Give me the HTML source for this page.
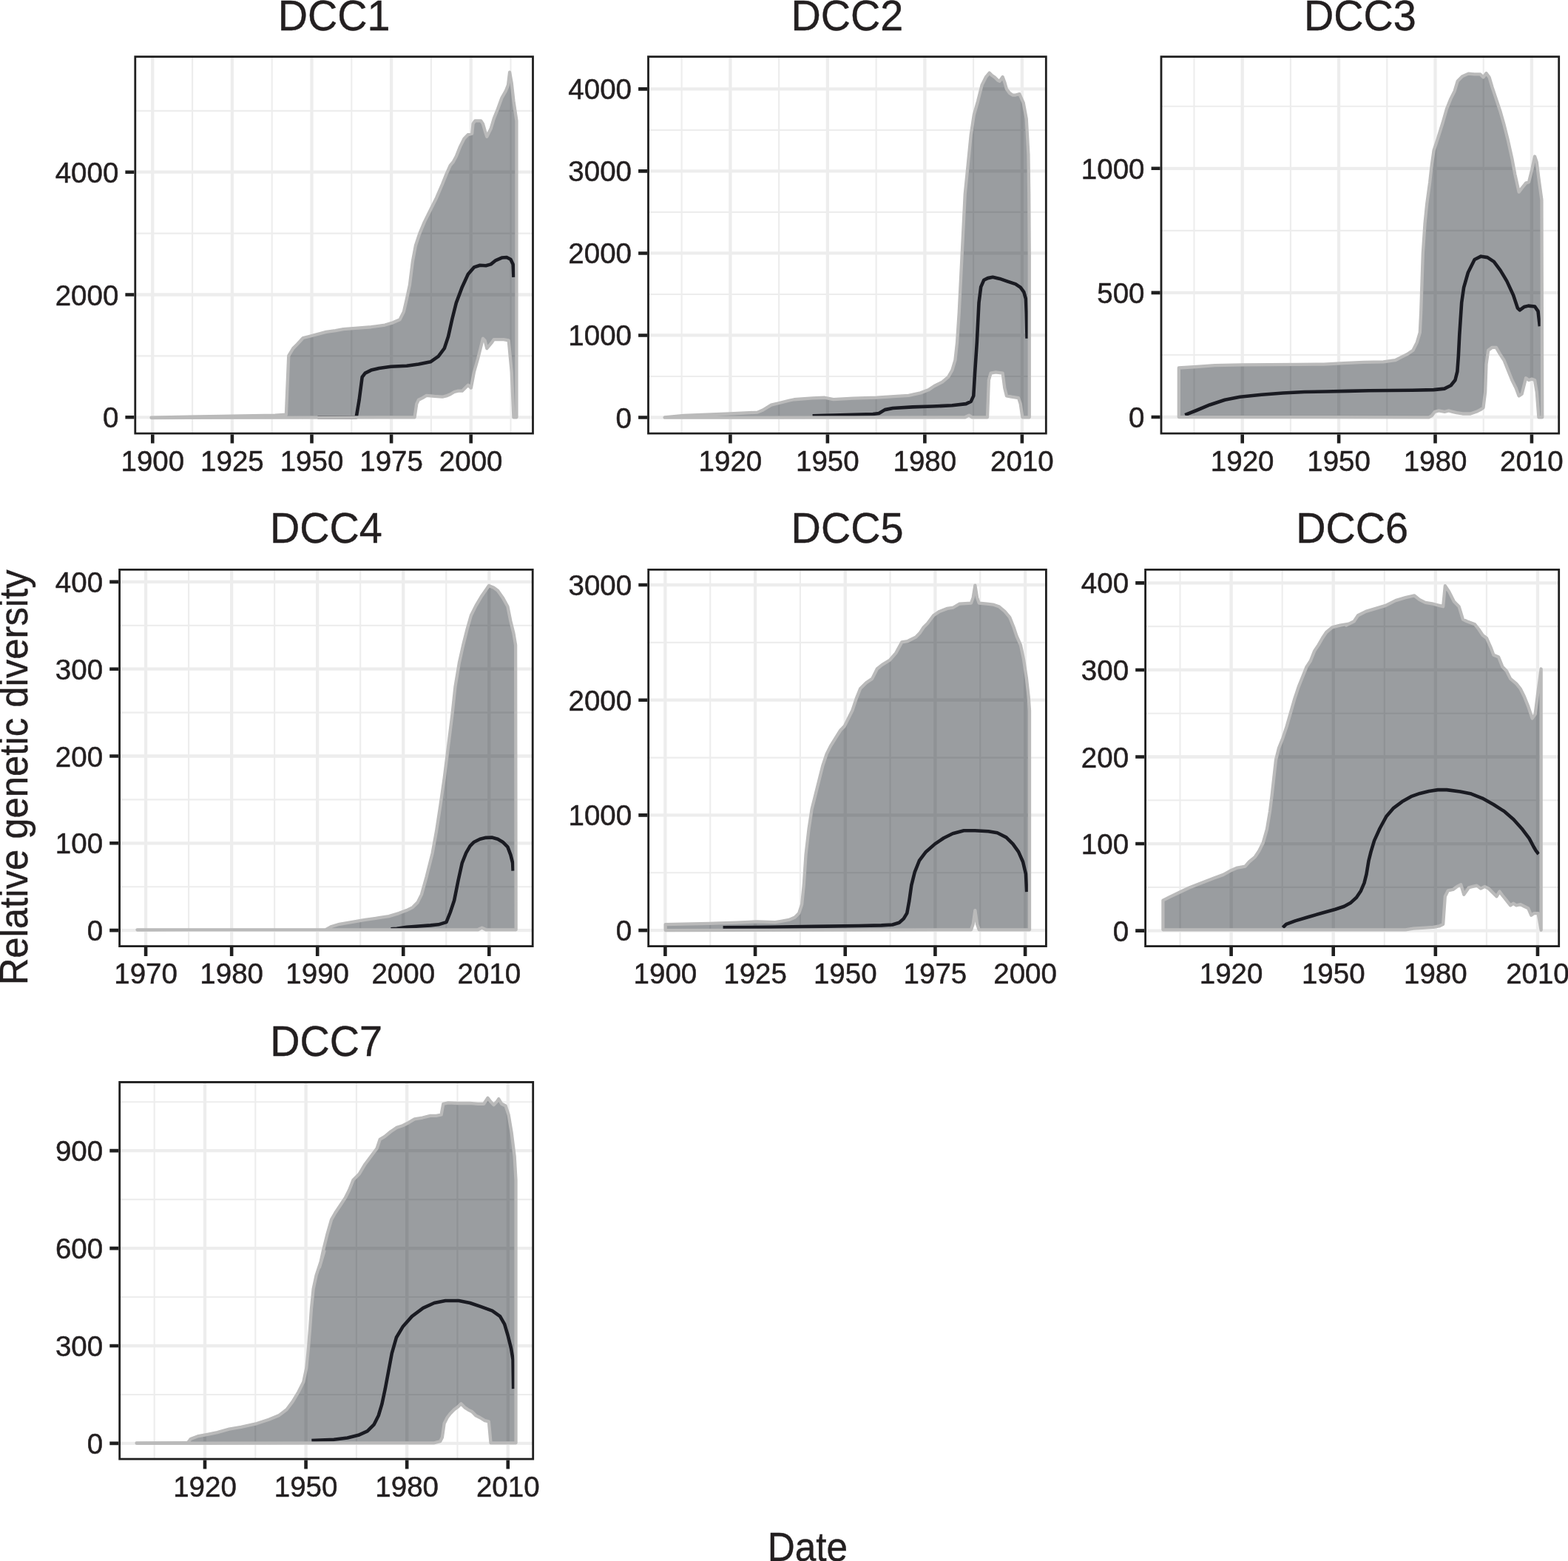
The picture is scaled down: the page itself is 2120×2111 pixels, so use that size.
<!DOCTYPE html>
<html><head><meta charset="utf-8"><title>Relative genetic diversity</title><style>html,body{margin:0;padding:0;background:#fff;overflow:hidden}svg{display:block}</style></head><body>
<svg width="2120" height="2111" viewBox="0 0 2120 2111">
<rect width="100%" height="100%" fill="#fff"/>
<defs><clipPath id="c0"><rect x="181.4" y="75.3" width="540.5" height="512.3"/></clipPath><clipPath id="c1"><rect x="875.1" y="75.3" width="540.6" height="512.3"/></clipPath><clipPath id="c2"><rect x="1568.6" y="75.3" width="540.5" height="512.3"/></clipPath><clipPath id="c3"><rect x="160.2" y="768.9" width="561.4" height="512.1"/></clipPath><clipPath id="c4"><rect x="875.3" y="768.9" width="540.5" height="512.1"/></clipPath><clipPath id="c5"><rect x="1547.2" y="768.9" width="561.9" height="512.1"/></clipPath><clipPath id="c6"><rect x="160.3" y="1462.1" width="561.8" height="512.4"/></clipPath></defs>
<g clip-path="url(#c0)">
<path d="M260.1 75.3V587.6M367.7 75.3V587.6M475.3 75.3V587.6M582.9 75.3V587.6M690.5 75.3V587.6M181.4 481.4H721.9M181.4 315.6H721.9M181.4 149.8H721.9" stroke="#ededed" stroke-width="2.15" fill="none"/>
<path d="M206.3 75.3V587.6M313.9 75.3V587.6M421.5 75.3V587.6M529.1 75.3V587.6M636.7 75.3V587.6M181.4 564.3H721.9M181.4 398.5H721.9M181.4 232.7H721.9" stroke="#ededed" stroke-width="4.3" fill="none"/>
<polyline points="429.44,564.29 481.64,564.29 485.65,540.74 489.67,509.96 493.68,504.6 501.71,500.59 512.42,497.91 528.48,495.77 549.89,494.7 565.95,492.56 582.01,489.35 592.72,481.85 600.75,471.15 606.1,455.09 611.46,431 616.81,409.58 624.84,388.17 632.87,370.77 640.9,361.4 648.93,358.73 656.96,359.26 663.65,357.39 670.34,352.03 678.37,348.55 685.06,348.02 690.42,350.7 693.63,357.39 694.43,374.79" fill="none" stroke="#2a272e" stroke-width="4.6" stroke-linejoin="round"/>
<polygon points="204.55,564.66 299.42,562.91 372.09,561.57 386.89,560.63 390.26,481.23 396.31,471.14 401.7,465.75 409.77,457.01 417.85,454.99 440.99,448.93 453.53,447.06 464.24,445.18 480.3,443.84 501.71,442.24 520.45,439.56 531.16,436.35 540.52,432.33 545.88,421.63 549.89,404.23 553.91,385.49 557.92,353.37 561.94,331.96 567.29,315.9 573.98,299.84 582.01,283.78 590.04,267.72 598.07,248.98 603.43,235.6 608.78,223.55 612.79,219 616.81,211.51 622.16,198.13 627.52,187.42 632.87,182.07 638.22,180.73 639.56,167.34 642.24,163.33 650.27,163.33 652.94,167.34 655.62,176.71 658.3,184.74 660.97,179.39 663.65,174.04 667.67,160.65 673.02,147.27 678.37,132.55 683.73,123.18 686.94,115.15 689.08,97.75 691.76,112.47 694.43,136.56 698.45,163.33 698.45,564.29 694.43,564.29 691.76,503.27 687.74,460.44 681.05,459.1 667.67,459.1 664.99,463.12 658.3,471.15 655.62,460.44 652.94,457.76 650.27,468.47 646.25,484.53 640.9,503.27 636.88,524.68 632.87,520.66 628.85,524.68 624.84,528.69 619.49,528.69 614.13,530.03 608.78,533.24 603.43,535.39 598.07,536.72 587.37,535.92 576.66,534.85 571.31,538.06 565.95,540.74 563.28,546.09 560.6,564.29 204.55,565.07" fill="#020a12" fill-opacity="0.4" stroke="#bababa" stroke-width="4.3" stroke-linejoin="round"/>
<rect x="181.4" y="75.3" width="540.5" height="512.3" fill="none" stroke="#1f1f1f" stroke-width="5.6"/>
</g>
<path d="M206.3 587.6v12M313.9 587.6v12M421.5 587.6v12M529.1 587.6v12M636.7 587.6v12M181.4 564.3h-12M181.4 398.5h-12M181.4 232.7h-12" stroke="#1f1f1f" stroke-width="4.6" fill="none"/>
<g font-family="'Liberation Sans', Arial, Helvetica, sans-serif" font-size="38.5" fill="#231f20" stroke="#231f20" stroke-width="0.5"><text x="206.3" y="636.8" text-anchor="middle">1900</text><text x="313.9" y="636.8" text-anchor="middle">1925</text><text x="421.5" y="636.8" text-anchor="middle">1950</text><text x="529.1" y="636.8" text-anchor="middle">1975</text><text x="636.7" y="636.8" text-anchor="middle">2000</text><text x="160.3" y="578.3" text-anchor="end">0</text><text x="160.3" y="412.5" text-anchor="end">2000</text><text x="160.3" y="246.7" text-anchor="end">4000</text></g>
<text transform="translate(451.65,40.85) scale(1,1.04)" text-anchor="middle" font-family="'Liberation Sans', Arial, Helvetica, sans-serif" font-size="55.8" fill="#231f20" stroke="#231f20" stroke-width="0.4">DCC1</text>
<g clip-path="url(#c1)">
<path d="M921.65 75.3V587.6M1053.14 75.3V587.6M1184.63 75.3V587.6M1316.12 75.3V587.6M875.1 508.99H1415.7M875.1 397.95H1415.7M875.1 286.93H1415.7M875.1 175.89H1415.7" stroke="#ededed" stroke-width="2.15" fill="none"/>
<path d="M987.4 75.3V587.6M1118.89 75.3V587.6M1250.38 75.3V587.6M1381.87 75.3V587.6M875.1 564.5H1415.7M875.1 453.47H1415.7M875.1 342.44H1415.7M875.1 231.41H1415.7M875.1 120.38H1415.7" stroke="#ededed" stroke-width="4.3" fill="none"/>
<polyline points="1098.6,562.24 1115,561.74 1126.77,561.62 1153.53,560.81 1180.3,560.01 1188.33,558.94 1196.36,554.12 1207.07,551.98 1233.83,550.37 1260.6,549.57 1287.37,548.23 1306.1,546.09 1312.79,542.88 1316.27,535.39 1318.15,503.27 1320.82,463.12 1323.5,409.58 1326.18,388.17 1330.19,378.8 1335.55,376.12 1342.24,374.79 1351.61,376.93 1362.31,380.67 1373.02,384.15 1379.71,388.7 1384.26,394.86 1386.94,404.23 1387.74,422.97 1388.54,457.76" fill="none" stroke="#2a272e" stroke-width="4.6" stroke-linejoin="round"/>
<polygon points="898.6,564.47 924.69,561.99 986.8,559.5 1024.07,557.64 1031.52,554.53 1042.7,547.7 1052.64,545.22 1067.55,541.49 1073.76,540.25 1098.6,538.39 1115,537.76 1126.77,540.2 1153.53,538.6 1185.65,537.53 1212.42,535.92 1228.48,534.85 1244.54,531.37 1255.25,527.36 1263.28,522 1273.98,516.65 1282.01,509.96 1287.37,500.59 1291.38,487.21 1294.06,463.12 1296.73,422.97 1299.41,369.43 1302.09,315.9 1304.76,262.37 1308.78,222.22 1312.79,182.07 1316.81,155.3 1322.16,136.56 1327.52,115.15 1332.87,104.44 1337.69,98.55 1340.9,101.77 1344.91,104.44 1348.93,108.46 1351.61,109.8 1355.62,103.91 1358.3,111.13 1360.97,120.5 1364.99,125.86 1369,128.53 1373.02,128.53 1378.37,127.19 1383.73,139.24 1387.74,160.65 1390.42,208.83 1391.22,262.37 1391.76,342.67 1391.76,564.29 1382.39,564.29 1379.71,546.09 1377.03,538.06 1367.67,536.72 1360.97,535.39 1358.3,524.68 1355.62,504.6 1346.25,503.27 1339.56,504.6 1336.88,513.97 1335.01,564.29 1314.13,564.29 1310.12,561.62 1304.76,564.29 898.6,564.72" fill="#020a12" fill-opacity="0.4" stroke="#bababa" stroke-width="4.3" stroke-linejoin="round"/>
<rect x="875.1" y="75.3" width="540.6" height="512.3" fill="none" stroke="#1f1f1f" stroke-width="5.6"/>
</g>
<path d="M987.4 587.6v12M1118.89 587.6v12M1250.38 587.6v12M1381.87 587.6v12M875.1 564.5h-12M875.1 453.47h-12M875.1 342.44h-12M875.1 231.41h-12M875.1 120.38h-12" stroke="#1f1f1f" stroke-width="4.6" fill="none"/>
<g font-family="'Liberation Sans', Arial, Helvetica, sans-serif" font-size="38.5" fill="#231f20" stroke="#231f20" stroke-width="0.5"><text x="987.4" y="636.8" text-anchor="middle">1920</text><text x="1118.89" y="636.8" text-anchor="middle">1950</text><text x="1250.38" y="636.8" text-anchor="middle">1980</text><text x="1381.87" y="636.8" text-anchor="middle">2010</text><text x="854" y="578.5" text-anchor="end">0</text><text x="854" y="467.47" text-anchor="end">1000</text><text x="854" y="356.44" text-anchor="end">2000</text><text x="854" y="245.41" text-anchor="end">3000</text><text x="854" y="134.38" text-anchor="end">4000</text></g>
<text transform="translate(1145.4,40.85) scale(1,1.04)" text-anchor="middle" font-family="'Liberation Sans', Arial, Helvetica, sans-serif" font-size="55.8" fill="#231f20" stroke="#231f20" stroke-width="0.4">DCC2</text>
<g clip-path="url(#c2)">
<path d="M1614.5 75.3V587.6M1744.9 75.3V587.6M1875.32 75.3V587.6M2005.73 75.3V587.6M1568.6 479.95H2109.1M1568.6 311.85H2109.1M1568.6 143.75H2109.1" stroke="#ededed" stroke-width="2.15" fill="none"/>
<path d="M1679.7 75.3V587.6M1810.11 75.3V587.6M1940.52 75.3V587.6M2070.93 75.3V587.6M1568.6 564H2109.1M1568.6 395.9H2109.1M1568.6 227.8H2109.1" stroke="#ededed" stroke-width="4.3" fill="none"/>
<polyline points="1602.2,561.16 1618.21,554.76 1635.67,547.49 1656.04,540.79 1676.41,536.72 1705.52,533.81 1734.62,531.48 1763.73,530.02 1792.83,529.44 1821.93,528.86 1851.04,528.28 1880.14,527.99 1909.24,527.69 1938.35,527.11 1952.9,525.66 1961.63,521.29 1967.45,514.02 1970.36,502.37 1971.82,482 1973.27,452.9 1976.18,409.24 1979.09,388.87 1984.91,368.5 1993.64,351.04 2002.37,346.67 2011.11,348.13 2019.84,353.95 2028.57,365.59 2037.3,380.14 2046.03,399.06 2051.85,416.52 2054.76,419.43 2060.58,415.06 2066.4,413.61 2075.13,414.48 2079.5,420.88 2081.83,441.26" fill="none" stroke="#2a272e" stroke-width="4.6" stroke-linejoin="round"/>
<polygon points="1593.84,564.1 1593.84,497.52 1617.69,496.02 1642.53,494.16 1679.8,493.29 1754.34,492.8 1789.99,492.55 1816.77,491.22 1843.53,489.88 1870.3,489.35 1886.36,487.21 1894.39,483.19 1902.42,479.18 1910.45,473.82 1915.8,463.12 1919.82,449.73 1921.16,422.97 1922.49,382.82 1923.83,342.67 1926.51,302.52 1929.19,275.75 1933.2,246.31 1935.88,222.22 1938.55,203.48 1943.91,187.42 1950.6,166.01 1955.95,147.27 1961.31,133.89 1966.66,123.18 1970.67,109.8 1977.37,103.1 1985.4,99.63 1993.43,100.43 2001.46,100.43 2005.47,104.44 2009.49,99.09 2013.5,104.44 2017.52,117.83 2022.87,133.89 2028.22,149.95 2033.58,168.68 2038.93,190.1 2044.28,214.19 2048.3,235.6 2053.65,259.69 2057.67,254.34 2063.02,247.64 2067.03,246.31 2071.05,230.25 2075.06,211.51 2077.74,219.54 2080.42,240.95 2084.43,270.4 2085.24,564.29 2080.42,564.29 2077.74,530.03 2075.06,513.97 2071.05,512.63 2067.03,513.97 2063.02,511.3 2057.67,532.71 2053.65,535.39 2049.64,524.68 2044.28,513.97 2038.93,500.59 2033.58,487.21 2028.22,479.18 2022.87,469.81 2017.52,469.81 2012.16,473.82 2009.49,492.56 2008.15,530.03 2005.47,551.45 2001.46,554.12 1996.1,556.8 1988.07,559.48 1977.37,559.48 1969.34,558.14 1963.98,556.8 1958.63,555.46 1953.28,556.8 1945.25,555.46 1939.89,556.8 1935.88,562.15 1931.86,564.29" fill="#020a12" fill-opacity="0.4" stroke="#bababa" stroke-width="4.3" stroke-linejoin="round"/>
<rect x="1568.6" y="75.3" width="540.5" height="512.3" fill="none" stroke="#1f1f1f" stroke-width="5.6"/>
</g>
<path d="M1679.7 587.6v12M1810.11 587.6v12M1940.52 587.6v12M2070.93 587.6v12M1568.6 564h-12M1568.6 395.9h-12M1568.6 227.8h-12" stroke="#1f1f1f" stroke-width="4.6" fill="none"/>
<g font-family="'Liberation Sans', Arial, Helvetica, sans-serif" font-size="38.5" fill="#231f20" stroke="#231f20" stroke-width="0.5"><text x="1679.7" y="636.8" text-anchor="middle">1920</text><text x="1810.11" y="636.8" text-anchor="middle">1950</text><text x="1940.52" y="636.8" text-anchor="middle">1980</text><text x="2070.93" y="636.8" text-anchor="middle">2010</text><text x="1547.5" y="578" text-anchor="end">0</text><text x="1547.5" y="409.9" text-anchor="end">500</text><text x="1547.5" y="241.8" text-anchor="end">1000</text></g>
<text transform="translate(1838.85,40.85) scale(1,1.04)" text-anchor="middle" font-family="'Liberation Sans', Arial, Helvetica, sans-serif" font-size="55.8" fill="#231f20" stroke="#231f20" stroke-width="0.4">DCC3</text>
<g clip-path="url(#c3)">
<path d="M255.12 768.9V1281M371.18 768.9V1281M487.23 768.9V1281M603.27 768.9V1281M160.2 1199.2H721.6M160.2 1081.4H721.6M160.2 963.6H721.6M160.2 845.8H721.6" stroke="#ededed" stroke-width="2.15" fill="none"/>
<path d="M197.1 768.9V1281M313.15 768.9V1281M429.2 768.9V1281M545.25 768.9V1281M661.3 768.9V1281M160.2 1258.1H721.6M160.2 1140.3H721.6M160.2 1022.5H721.6M160.2 904.7H721.6M160.2 786.9H721.6" stroke="#ededed" stroke-width="4.3" fill="none"/>
<polyline points="528.48,1256.22 536.51,1255.69 549.89,1253.81 565.95,1252.48 582.01,1251.4 592.72,1250.33 603.43,1247.12 608.78,1233.74 614.13,1217.68 619.49,1190.91 624.84,1166.82 630.19,1153.44 635.55,1144.07 640.9,1138.72 648.93,1134.7 656.96,1132.83 664.99,1132.56 673.02,1134.7 679.71,1138.72 686.4,1145.41 690.42,1156.12 693.09,1166.82 693.63,1177.53" fill="none" stroke="#2a272e" stroke-width="4.6" stroke-linejoin="round"/>
<polygon points="185.5,1257.3 440.15,1257.29 448.18,1253.01 458.89,1249.8 474.95,1247.12 493.68,1243.91 512.42,1241.23 525.8,1239.09 539.19,1235.08 549.89,1231.06 557.92,1227.05 564.61,1220.36 569.97,1209.65 576.66,1185.56 584.69,1153.44 590.04,1124 595.4,1089.2 600.75,1051.73 606.1,1008.9 611.46,966.07 615.47,928.6 620.82,896.48 626.18,872.39 631.53,850.98 636.88,832.24 643.58,818.86 651.61,805.47 660.97,792.09 667.67,794.77 673.02,798.78 679.71,808.15 686.4,820.19 690.42,840.27 694.43,856.33 697.11,872.39 697.64,1257.29 656.96,1257.29 651.61,1254.62 646.25,1257.29 185.5,1257.5" fill="#020a12" fill-opacity="0.4" stroke="#bababa" stroke-width="4.3" stroke-linejoin="round"/>
<rect x="160.2" y="768.9" width="561.4" height="512.1" fill="none" stroke="#1f1f1f" stroke-width="5.6"/>
</g>
<path d="M197.1 1281v12M313.15 1281v12M429.2 1281v12M545.25 1281v12M661.3 1281v12M160.2 1258.1h-12M160.2 1140.3h-12M160.2 1022.5h-12M160.2 904.7h-12M160.2 786.9h-12" stroke="#1f1f1f" stroke-width="4.6" fill="none"/>
<g font-family="'Liberation Sans', Arial, Helvetica, sans-serif" font-size="38.5" fill="#231f20" stroke="#231f20" stroke-width="0.5"><text x="197.1" y="1330.2" text-anchor="middle">1970</text><text x="313.15" y="1330.2" text-anchor="middle">1980</text><text x="429.2" y="1330.2" text-anchor="middle">1990</text><text x="545.25" y="1330.2" text-anchor="middle">2000</text><text x="661.3" y="1330.2" text-anchor="middle">2010</text><text x="139.1" y="1272.1" text-anchor="end">0</text><text x="139.1" y="1154.3" text-anchor="end">100</text><text x="139.1" y="1036.5" text-anchor="end">200</text><text x="139.1" y="918.7" text-anchor="end">300</text><text x="139.1" y="800.9" text-anchor="end">400</text></g>
<text transform="translate(440.9,734.45) scale(1,1.04)" text-anchor="middle" font-family="'Liberation Sans', Arial, Helvetica, sans-serif" font-size="55.8" fill="#231f20" stroke="#231f20" stroke-width="0.4">DCC4</text>
<g clip-path="url(#c4)">
<path d="M960.24 768.9V1281M1081.91 768.9V1281M1203.59 768.9V1281M1325.26 768.9V1281M875.3 1180.25H1415.8M875.3 1024.55H1415.8M875.3 868.85H1415.8" stroke="#ededed" stroke-width="2.15" fill="none"/>
<path d="M899.4 768.9V1281M1021.07 768.9V1281M1142.75 768.9V1281M1264.42 768.9V1281M1386.1 768.9V1281M875.3 1258.1H1415.8M875.3 1102.4H1415.8M875.3 946.7H1415.8M875.3 791H1415.8" stroke="#ededed" stroke-width="4.3" fill="none"/>
<polyline points="977.58,1254.42 1040.89,1253.82 1101.18,1252.92 1161.48,1252.01 1191.62,1251.41 1206.7,1250.5 1215.74,1247.79 1221.77,1242.36 1226.29,1234.83 1229.31,1218.25 1232.32,1197.14 1236.85,1179.05 1242.88,1163.98 1251.92,1151.92 1263.98,1141.37 1276.04,1133.23 1288.1,1127.2 1303.17,1123.28 1318.25,1123.28 1336.33,1124.18 1348.39,1126.29 1360.45,1132.32 1369.5,1141.37 1377.03,1151.92 1383.06,1165.49 1386.98,1182.07 1388.19,1206.19" fill="none" stroke="#2a272e" stroke-width="4.6" stroke-linejoin="round"/>
<polygon points="899.69,1258.08 899.69,1250.06 958.85,1248.95 996.12,1247.55 1024.07,1246.34 1048.03,1247.12 1056.06,1245.78 1066.77,1243.91 1074.8,1240.43 1080.15,1235.08 1084.16,1223.03 1086.84,1196.27 1089.52,1156.12 1093.53,1121.32 1097.55,1094.55 1104.24,1067.79 1108.25,1051.73 1112.27,1035.67 1117.62,1019.61 1122.98,1008.9 1129.67,998.19 1136.36,987.49 1141.71,982.13 1147.07,971.43 1152.42,960.72 1157.77,944.66 1163.13,931.28 1171.16,923.25 1179.19,917.89 1185.88,904.51 1192.57,899.16 1203.28,892.46 1211.31,883.1 1219.34,868.37 1227.37,867.04 1238.07,861.68 1243.43,856.33 1248.78,848.3 1254.13,842.95 1262.16,832.24 1270.19,826.89 1280.9,822.87 1288.93,821.53 1296.96,816.72 1304.99,816.18 1313.02,815.64 1315.7,808.15 1318.37,791.55 1321.05,808.15 1323.73,815.64 1334.43,816.72 1342.46,817.52 1350.49,820.19 1358.52,826.89 1365.21,834.92 1370.57,848.3 1374.58,860.34 1379.94,872.39 1383.95,891.13 1387.97,917.89 1390.64,941.98 1391.98,960.72 1391.98,1257.29 1323.73,1257.29 1321.05,1249.8 1318.37,1231.06 1315.7,1249.8 1313.02,1257.29" fill="#020a12" fill-opacity="0.4" stroke="#bababa" stroke-width="4.3" stroke-linejoin="round"/>
<rect x="875.3" y="768.9" width="540.5" height="512.1" fill="none" stroke="#1f1f1f" stroke-width="5.6"/>
</g>
<path d="M899.4 1281v12M1021.07 1281v12M1142.75 1281v12M1264.42 1281v12M1386.1 1281v12M875.3 1258.1h-12M875.3 1102.4h-12M875.3 946.7h-12M875.3 791h-12" stroke="#1f1f1f" stroke-width="4.6" fill="none"/>
<g font-family="'Liberation Sans', Arial, Helvetica, sans-serif" font-size="38.5" fill="#231f20" stroke="#231f20" stroke-width="0.5"><text x="899.4" y="1330.2" text-anchor="middle">1900</text><text x="1021.07" y="1330.2" text-anchor="middle">1925</text><text x="1142.75" y="1330.2" text-anchor="middle">1950</text><text x="1264.42" y="1330.2" text-anchor="middle">1975</text><text x="1386.1" y="1330.2" text-anchor="middle">2000</text><text x="854.2" y="1272.1" text-anchor="end">0</text><text x="854.2" y="1116.4" text-anchor="end">1000</text><text x="854.2" y="960.7" text-anchor="end">2000</text><text x="854.2" y="805" text-anchor="end">3000</text></g>
<text transform="translate(1145.55,734.45) scale(1,1.04)" text-anchor="middle" font-family="'Liberation Sans', Arial, Helvetica, sans-serif" font-size="55.8" fill="#231f20" stroke="#231f20" stroke-width="0.4">DCC5</text>
<g clip-path="url(#c5)">
<path d="M1595.54 768.9V1281M1733.66 768.9V1281M1871.78 768.9V1281M2009.9 768.9V1281M1547.2 1199.82H2109.1M1547.2 1082.27H2109.1M1547.2 964.72H2109.1M1547.2 847.17H2109.1" stroke="#ededed" stroke-width="2.15" fill="none"/>
<path d="M1664.6 768.9V1281M1802.72 768.9V1281M1940.84 768.9V1281M2078.96 768.9V1281M1547.2 1258.6H2109.1M1547.2 1141.05H2109.1M1547.2 1023.5H2109.1M1547.2 905.95H2109.1M1547.2 788.4H2109.1" stroke="#ededed" stroke-width="4.3" fill="none"/>
<polyline points="1734.45,1254.42 1738.97,1249.9 1751.03,1245.38 1769.12,1239.95 1787.21,1234.83 1805.3,1229.7 1817.36,1225.78 1826.4,1220.66 1833.94,1213.72 1839.97,1204.68 1844.49,1194.13 1847.51,1182.07 1850.52,1163.98 1853.54,1151.92 1858.06,1136.85 1865.6,1120.27 1874.64,1103.68 1883.68,1093.13 1895.74,1084.09 1907.8,1077.15 1919.86,1072.93 1931.92,1069.92 1943.98,1068.11 1956.04,1068.11 1974.13,1070.52 1989.2,1073.54 2004.27,1079.57 2019.35,1088.01 2034.42,1097.65 2046.48,1108.21 2058.54,1121.77 2067.59,1133.83 2073.61,1145.29 2076.63,1150.41 2080.25,1154.94" fill="none" stroke="#2a272e" stroke-width="4.6" stroke-linejoin="round"/>
<polygon points="1572.43,1257.29 1572.43,1217.68 1581.8,1212.86 1595.18,1206.44 1608.56,1200.28 1621.95,1194.93 1640.68,1187.7 1654.07,1182.88 1664.77,1176.99 1672.8,1173.51 1683.51,1171.64 1688.86,1165.48 1696.89,1158.79 1702.25,1150.76 1707.6,1140.06 1712.95,1121.32 1716.97,1097.23 1719.64,1075.82 1722.32,1051.73 1725,1027.64 1729.01,1011.58 1734.37,998.19 1739.72,982.13 1745.07,963.4 1750.43,944.66 1755.78,928.6 1761.13,915.22 1766.49,901.83 1771.84,893.8 1777.19,880.42 1782.55,872.39 1787.9,863.02 1793.25,854.99 1801.28,848.3 1811.99,845.62 1822.7,843.75 1820,845.62 1830.71,840.27 1836.06,832.24 1846.77,826.89 1860.15,822.87 1873.53,818.86 1886.92,812.16 1900.3,808.15 1912.34,805.47 1919.04,810.83 1927.07,814.84 1937.77,816.72 1945.8,818.86 1951.16,820.19 1953.83,792.09 1959.19,800.12 1965.88,813.5 1972.57,820.19 1977.92,837.59 1983.28,840.27 1993.98,844.28 1999.34,850.98 2004.69,859.01 2010.04,863.02 2015.4,875.07 2019.41,885.77 2026.1,888.45 2031.46,901.83 2036.81,907.19 2042.16,917.89 2050.19,924.58 2055.55,931.28 2060.9,941.98 2066.25,955.37 2071.61,971.43 2075.62,966.07 2079.64,933.95 2083.65,904.51 2083.65,1257.83 2079.64,1235.08 2074.28,1235.08 2070.27,1237.75 2066.25,1228.39 2060.9,1225.71 2055.55,1223.03 2050.19,1224.37 2046.18,1221.69 2042.16,1224.37 2036.81,1217.68 2031.46,1210.99 2027.44,1205.63 2023.43,1212.33 2018.07,1206.97 2012.72,1201.62 2007.37,1198.94 2002.01,1201.62 1996.66,1197.6 1991.31,1198.94 1985.95,1200.28 1979.26,1209.65 1975.25,1196.27 1969.89,1198.94 1964.54,1202.96 1957.85,1204.3 1953.83,1212.33 1951.16,1249.8 1945.8,1252.48 1937.77,1253.81 1927.07,1254.62 1911.01,1255.69 1900.3,1257.29" fill="#020a12" fill-opacity="0.4" stroke="#bababa" stroke-width="4.3" stroke-linejoin="round"/>
<rect x="1547.2" y="768.9" width="561.9" height="512.1" fill="none" stroke="#1f1f1f" stroke-width="5.6"/>
</g>
<path d="M1664.6 1281v12M1802.72 1281v12M1940.84 1281v12M2078.96 1281v12M1547.2 1258.6h-12M1547.2 1141.05h-12M1547.2 1023.5h-12M1547.2 905.95h-12M1547.2 788.4h-12" stroke="#1f1f1f" stroke-width="4.6" fill="none"/>
<g font-family="'Liberation Sans', Arial, Helvetica, sans-serif" font-size="38.5" fill="#231f20" stroke="#231f20" stroke-width="0.5"><text x="1664.6" y="1330.2" text-anchor="middle">1920</text><text x="1802.72" y="1330.2" text-anchor="middle">1950</text><text x="1940.84" y="1330.2" text-anchor="middle">1980</text><text x="2078.96" y="1330.2" text-anchor="middle">2010</text><text x="1526.1" y="1272.6" text-anchor="end">0</text><text x="1526.1" y="1155.05" text-anchor="end">100</text><text x="1526.1" y="1037.5" text-anchor="end">200</text><text x="1526.1" y="919.95" text-anchor="end">300</text><text x="1526.1" y="802.4" text-anchor="end">400</text></g>
<text transform="translate(1828.15,734.45) scale(1,1.04)" text-anchor="middle" font-family="'Liberation Sans', Arial, Helvetica, sans-serif" font-size="55.8" fill="#231f20" stroke="#231f20" stroke-width="0.4">DCC6</text>
<g clip-path="url(#c6)">
<path d="M208.7 1462.1V1974.5M345.3 1462.1V1974.5M481.88 1462.1V1974.5M618.48 1462.1V1974.5M160.3 1885.95H722.1M160.3 1754.04H722.1M160.3 1622.12H722.1M160.3 1490.22H722.1" stroke="#ededed" stroke-width="2.15" fill="none"/>
<path d="M277 1462.1V1974.5M413.59 1462.1V1974.5M550.18 1462.1V1974.5M686.77 1462.1V1974.5M160.3 1951.9H722.1M160.3 1819.99H722.1M160.3 1688.08H722.1M160.3 1556.17H722.1" stroke="#ededed" stroke-width="4.3" fill="none"/>
<polyline points="421.33,1948.04 433.39,1947.44 451.48,1946.83 469.57,1944.42 484.64,1940.8 496.7,1935.38 505.74,1926.33 511.77,1914.27 516.29,1899.2 520.82,1878.1 525.34,1853.98 529.86,1829.86 535.89,1808.76 544.94,1793.68 556.99,1780.12 572.07,1768.96 587.14,1762.03 602.22,1759.01 620.3,1759.01 635.38,1762.03 650.45,1767.15 665.53,1772.58 676.08,1780.12 682.11,1790.67 686.63,1805.74 691.15,1823.83 693.56,1838.91 694.17,1878.1" fill="none" stroke="#2a272e" stroke-width="4.6" stroke-linejoin="round"/>
<polygon points="184.63,1951.29 253.68,1951.29 257.7,1945.94 267.07,1942.46 280.45,1939.78 293.83,1937.11 309.89,1932.56 325.95,1929.88 347.37,1925.06 363.43,1919.71 376.81,1914.36 387.52,1906.33 395.55,1895.62 403.58,1882.24 410.27,1868.85 414.28,1850.12 416.96,1823.35 419.1,1796.58 420.97,1769.82 423.65,1743.05 427.67,1724.31 433.02,1708.25 438.37,1692.19 432,1713.61 437.35,1689.52 442.71,1668.1 448.06,1649.37 453.41,1640 461.44,1627.95 466.8,1619.92 472.15,1609.22 477.5,1595.83 485.53,1587.8 493.56,1574.42 501.59,1563.71 509.62,1553.01 513.64,1540.96 520.33,1536.95 528.36,1530.25 536.39,1524.9 544.42,1522.22 552.45,1518.21 560.48,1513.39 571.19,1511.52 581.89,1508.84 589.92,1508.84 596.61,1507.5 599.29,1492.78 605.98,1491.44 619.37,1491.98 635.43,1491.98 646.13,1492.78 654.16,1492.78 659.52,1484.75 663.53,1490.1 667.55,1494.12 671.56,1490.1 674.24,1486.09 678.25,1492.78 683.61,1495.46 687.62,1507.5 691.64,1531.59 695.65,1563.71 697.52,1595.83 697.52,1951.29 663.53,1951.29 660.85,1922.39 655.5,1921.05 648.81,1917.03 643.46,1914.36 638.1,1909 632.75,1906.33 628.73,1903.65 623.38,1898.3 619.37,1902.31 614.01,1906.33 608.66,1911.68 604.64,1917.03 600.63,1925.06 597.95,1943.8 595.28,1949.15 587.25,1951.29 184.63,1951.83" fill="#020a12" fill-opacity="0.4" stroke="#bababa" stroke-width="4.3" stroke-linejoin="round"/>
<rect x="160.3" y="1462.1" width="561.8" height="512.4" fill="none" stroke="#1f1f1f" stroke-width="5.6"/>
</g>
<path d="M277 1974.5v12M413.59 1974.5v12M550.18 1974.5v12M686.77 1974.5v12M160.3 1951.9h-12M160.3 1819.99h-12M160.3 1688.08h-12M160.3 1556.17h-12" stroke="#1f1f1f" stroke-width="4.6" fill="none"/>
<g font-family="'Liberation Sans', Arial, Helvetica, sans-serif" font-size="38.5" fill="#231f20" stroke="#231f20" stroke-width="0.5"><text x="277" y="2023.7" text-anchor="middle">1920</text><text x="413.59" y="2023.7" text-anchor="middle">1950</text><text x="550.18" y="2023.7" text-anchor="middle">1980</text><text x="686.77" y="2023.7" text-anchor="middle">2010</text><text x="139.2" y="1965.9" text-anchor="end">0</text><text x="139.2" y="1833.99" text-anchor="end">300</text><text x="139.2" y="1702.08" text-anchor="end">600</text><text x="139.2" y="1570.17" text-anchor="end">900</text></g>
<text transform="translate(441.2,1427.65) scale(1,1.04)" text-anchor="middle" font-family="'Liberation Sans', Arial, Helvetica, sans-serif" font-size="55.8" fill="#231f20" stroke="#231f20" stroke-width="0.4">DCC7</text>
<text transform="translate(1037.69,2110.5) scale(1,1.065)" font-family="'Liberation Sans', Arial, Helvetica, sans-serif" font-size="51.36" fill="#231f20" stroke="#231f20" stroke-width="0.4">Date</text>
<text transform="translate(36.7,1332.37) rotate(-90) scale(1,1.05)" font-family="'Liberation Sans', Arial, Helvetica, sans-serif" font-size="50.82" fill="#231f20" stroke="#231f20" stroke-width="0.4">Relative genetic diversity</text>
</svg>
</body></html>
